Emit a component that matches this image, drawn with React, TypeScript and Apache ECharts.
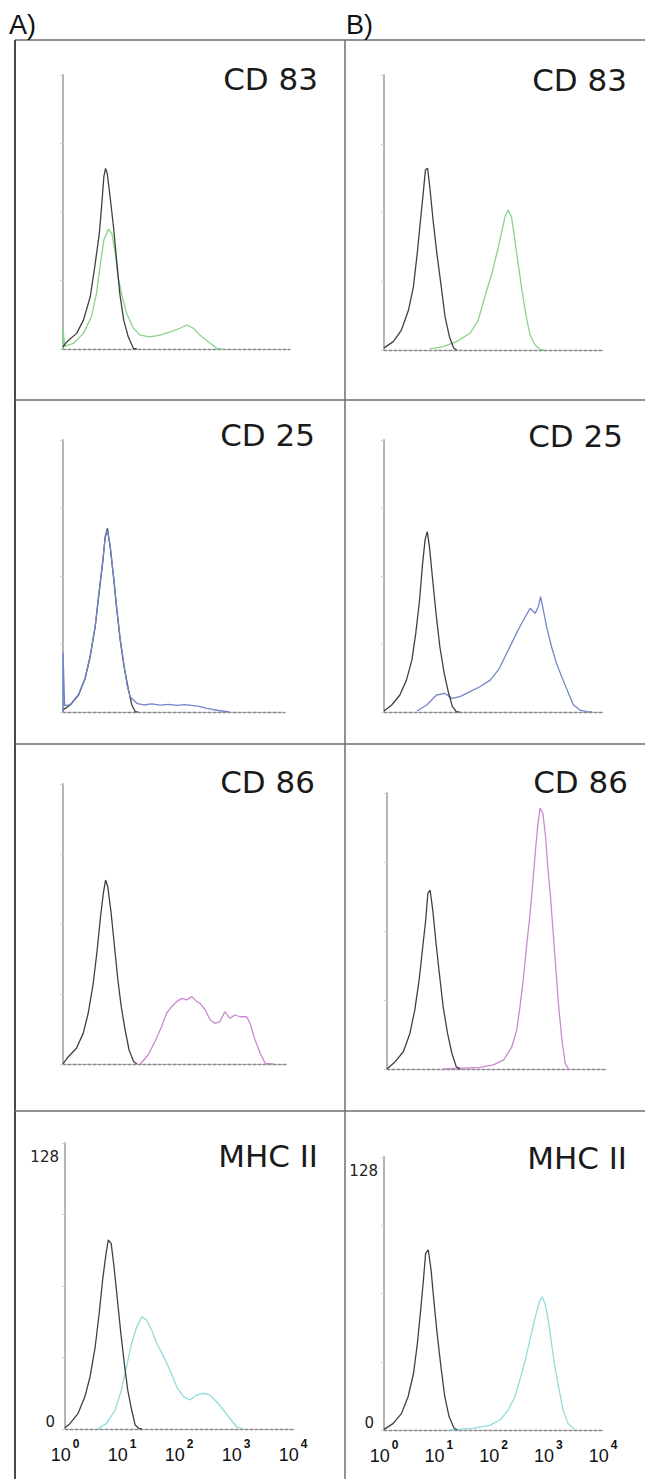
import React, { useEffect, useRef } from "react";
import * as echarts from "echarts";

// ---- DATA (x = log10 fluorescence in decades, y = cell count) ----
const markers = ["CD 83", "CD 25", "CD 86", "MHC II"];
const columnLabels = ["A)", "B)"];
const yTickLabels = [0, 128];
const decades = [0, 1, 2, 3, 4];

// Column A
const A_CD83_ctrl = [[0,1],[0.07,3.4],[0.24,7.3],[0.36,13.5],[0.48,24.4],[0.56,38.5],[0.64,54],[0.68,66.5],[0.72,80.5],[0.75,84.4],[0.78,82],[0.83,71],[0.89,57],[0.95,40],[1.0,26],[1.07,13.5],[1.15,5.7],[1.24,0.3],[1.3,0]];
const A_CD83_stain = [[0,0],[0,9.7],[0.03,1.2],[0.18,2.6],[0.36,7.3],[0.5,15],[0.59,26],[0.66,40],[0.72,51],[0.8,56],[0.86,54],[0.92,44.7],[0.97,33.8],[1.03,26],[1.12,16.7],[1.24,9.7],[1.36,6.5],[1.53,5.7],[1.71,6.5],[1.89,8],[2.06,9.7],[2.18,11.2],[2.3,9.7],[2.41,6.5],[2.56,3.4],[2.71,0.3],[2.8,0]];
const A_CD25_ctrl = [[0,1],[0.13,3.3],[0.28,8],[0.4,15.9],[0.49,26],[0.58,40],[0.65,56],[0.72,71.5],[0.76,82.5],[0.8,86.4],[0.85,77.8],[0.91,63.7],[0.97,48],[1.03,33.9],[1.1,21.3],[1.18,10.4],[1.24,3.3],[1.3,0.2],[1.35,0]];
const A_CD25_stain = [[0,0],[0,28],[0.03,3],[0.13,3.5],[0.28,8.3],[0.4,16],[0.49,26.5],[0.58,40.5],[0.65,56.5],[0.72,72],[0.76,82],[0.8,85.5],[0.85,78],[0.91,64],[0.97,48.5],[1.03,34.5],[1.1,22],[1.16,12],[1.21,7.2],[1.33,4.1],[1.45,3.3],[1.6,3.8],[1.75,3.2],[1.9,3.6],[2.05,3.1],[2.2,3.5],[2.35,3.0],[2.45,2.6],[2.59,1.7],[2.8,0.7],[3.0,0]];
const A_CD86_ctrl = [[0,0],[0.07,2.6],[0.24,7.2],[0.36,14],[0.45,23.2],[0.54,36.9],[0.61,52.1],[0.67,67.3],[0.72,78],[0.76,84.1],[0.8,81],[0.86,68.9],[0.92,53.6],[0.98,38.4],[1.04,26.2],[1.11,15.5],[1.18,6.4],[1.26,1.1],[1.32,0]];
const A_CD86_stain = [[1.38,0],[1.52,4.1],[1.64,10.2],[1.76,17],[1.85,23.2],[1.94,26.2],[2.03,28.5],[2.12,30],[2.21,29.3],[2.3,30.8],[2.39,28.5],[2.45,27.7],[2.54,24.7],[2.63,20.1],[2.71,18.6],[2.8,19.3],[2.89,23.9],[2.98,20.9],[3.07,22.4],[3.16,21.6],[3.28,21.6],[3.34,18.6],[3.43,11],[3.52,4.9],[3.61,0.3],[3.76,0]];
const A_MHC_ctrl = [[0,0.6],[0.09,2.5],[0.23,7],[0.35,14.5],[0.44,23.4],[0.53,36.8],[0.6,51.8],[0.66,66.7],[0.72,78.6],[0.76,84.6],[0.81,83.1],[0.86,72.6],[0.92,57.7],[0.98,42.8],[1.04,29.4],[1.1,17.5],[1.17,8.5],[1.23,1.8],[1.29,0.3],[1.35,0]];
const A_MHC_stain = [[0.57,0],[0.73,2.5],[0.88,8.5],[0.99,17.5],[1.08,27.9],[1.17,38.4],[1.26,45.8],[1.35,50.3],[1.43,48.8],[1.52,44.3],[1.61,38.4],[1.73,32.4],[1.84,26.4],[1.96,18.9],[2.08,14.5],[2.19,13],[2.31,15.2],[2.43,16],[2.54,15.2],[2.66,12.2],[2.78,8.5],[2.89,4.8],[3.01,1],[3.13,0]];

// Column B
const B_CD83_ctrl = [[0,1],[0.17,3.9],[0.32,9.3],[0.45,18.6],[0.54,29.5],[0.61,45],[0.67,60.5],[0.72,73],[0.76,83.8],[0.8,84.6],[0.84,76],[0.9,60.5],[0.97,45],[1.05,29.5],[1.12,15.5],[1.2,6.2],[1.28,0.8],[1.34,0]];
const B_CD83_stain = [[0.84,0.5],[1.09,1.6],[1.33,3.9],[1.58,7.8],[1.73,14],[1.85,24.8],[1.98,35.7],[2.07,45],[2.14,52.7],[2.22,62],[2.28,65.2],[2.34,62],[2.4,51.2],[2.46,40.4],[2.53,28],[2.61,15.5],[2.68,7],[2.77,2.3],[2.86,0.3],[2.95,0]];
const B_CD25_ctrl = [[0,0.5],[0.14,3.3],[0.29,8],[0.41,15],[0.51,24.5],[0.58,37],[0.65,52.7],[0.7,68.4],[0.75,81],[0.79,84.9],[0.83,77.8],[0.89,62],[0.95,46.4],[1.02,30.7],[1.1,18.2],[1.18,8.8],[1.25,2.5],[1.32,0.2],[1.38,0]];
const B_CD25_stain = [[0.6,0.5],[0.78,3.3],[0.96,8],[1.11,8.8],[1.24,6.4],[1.39,7.2],[1.57,9.6],[1.75,11.9],[1.94,15],[2.09,19.8],[2.21,26],[2.33,32.3],[2.45,38.6],[2.58,44.8],[2.67,48.8],[2.76,46.4],[2.82,49.6],[2.86,54.3],[2.91,48],[2.97,40.1],[3.06,30.7],[3.15,22.9],[3.27,15],[3.37,8.8],[3.46,3.3],[3.58,0.9],[3.73,0.1],[3.8,0]];
const B_CD86_ctrl = [[0,0],[0.15,3.4],[0.3,8],[0.42,16.5],[0.51,27.4],[0.59,41.3],[0.65,55.2],[0.71,69.1],[0.75,81.5],[0.79,83],[0.84,73.7],[0.9,58.3],[0.96,44.4],[1.03,28.9],[1.11,16.6],[1.19,7.3],[1.27,1.1],[1.34,0]];
const B_CD86_stain = [[1.03,0],[1.71,0.8],[1.95,1.9],[2.14,4.2],[2.29,10.3],[2.38,18.1],[2.44,28.9],[2.5,41.3],[2.56,56.7],[2.62,70.6],[2.68,87.7],[2.73,103.1],[2.77,114],[2.81,121],[2.86,118.6],[2.91,107.7],[2.95,93.8],[3.0,79.9],[3.05,62.9],[3.1,45.9],[3.15,28.9],[3.21,13.5],[3.27,2.6],[3.33,0]];
const B_MHC_ctrl = [[0,0.3],[0.17,3.1],[0.32,7.8],[0.44,15.6],[0.54,26.6],[0.61,40.6],[0.67,56.3],[0.72,70.3],[0.76,82.8],[0.81,84.4],[0.86,75],[0.91,60.9],[0.97,45.3],[1.04,29.7],[1.11,15.6],[1.19,6.2],[1.28,0.8],[1.34,0]];
const B_MHC_stain = [[1.2,0],[1.63,0.8],[1.94,2.3],[2.12,4.7],[2.27,9.4],[2.39,15.6],[2.48,23.4],[2.58,32.8],[2.65,40.6],[2.72,48.4],[2.78,54.7],[2.84,60.2],[2.89,62.5],[2.94,59.4],[3.0,51.6],[3.06,40.6],[3.12,29.7],[3.2,18.8],[3.27,9.4],[3.36,3.1],[3.49,0]];

const controls = [
  [A_CD83_ctrl, A_CD25_ctrl, A_CD86_ctrl, A_MHC_ctrl],
  [B_CD83_ctrl, B_CD25_ctrl, B_CD86_ctrl, B_MHC_ctrl],
];
const stains = [
  [A_CD83_stain, A_CD25_stain, A_CD86_stain, A_MHC_stain],
  [B_CD83_stain, B_CD25_stain, B_CD86_stain, B_MHC_stain],
];

// ---- LAYOUT / STYLE ----
const markerColors = ["#8ad38a", "#7386c9", "#c98ad0", "#93dcdc"];
const grids = [
  [
    { left: 63, top: 75, width: 227, height: 274 },
    { left: 63, top: 440, width: 222, height: 272 },
    { left: 63, top: 784, width: 224, height: 280 },
    { left: 65, top: 1143, width: 228, height: 286 },
  ],
  [
    { left: 384, top: 75, width: 218, height: 275 },
    { left: 384, top: 440, width: 219, height: 272 },
    { left: 387, top: 793, width: 218, height: 276 },
    { left: 384, top: 1157, width: 219, height: 273 },
  ],
];
const titlePos = [
  [[318, 79], [315, 435], [315, 782], [318, 1156]],
  [[627, 80], [623, 436], [628, 782], [627, 1158]],
];

export default function App() {
  const ref = useRef<HTMLDivElement>(null);
  useEffect(() => {
    if (!ref.current) return;
    const chart = echarts.init(ref.current, null, { renderer: "svg" });
    const gridOpts: any[] = [];
    const xAxes: any[] = [];
    const yAxes: any[] = [];
    const series: any[] = [];
    const graphics: any[] = [];
    let idx = 0;
    for (let c = 0; c < 2; c++) {
      for (let r = 0; r < 4; r++) {
        const g = grids[c][r];
        const bottomRow = r === 3;
        gridOpts.push({ ...g, containLabel: false });
        xAxes.push({
          type: "value",
          gridIndex: idx,
          min: decades[0],
          max: decades[decades.length - 1],
          interval: 1,
          splitLine: { show: false },
          axisLine: { show: true, lineStyle: { color: "#8a8a8a", width: 1.4, type: [3, 2] } },
          axisTick: { show: false },
          axisLabel: {
            show: bottomRow,
            margin: 9,
            formatter: (v: number) => `{b|10}{s|${v}}`,
            rich: {
              b: { fontSize: 18, fontFamily: "Liberation Sans", color: "#111", lineHeight: 26, verticalAlign: "bottom" },
              s: { fontSize: 12, fontFamily: "Liberation Sans", color: "#111", fontWeight: "bold", lineHeight: 26, verticalAlign: "top", padding: [0, 0, 0, 2] },
            },
          },
        });
        yAxes.push({
          type: "value",
          gridIndex: idx,
          min: 0,
          max: 128,
          interval: 32,
          splitLine: { show: false },
          axisLine: { show: true, lineStyle: { color: "#b5b5b5", width: 2 } },
          axisTick: { show: true, length: 3, lineStyle: { color: "#d0d0d0" } },
          axisLabel: {
            show: bottomRow,
            margin: 6,
            formatter: (v: number) =>
              v === yTickLabels[1] ? `{t|${v}}` : v === yTickLabels[0] ? `{z|${v}}` : "",
            rich: {
              t: { fontSize: 15, fontFamily: "DejaVu Sans", color: "#222", padding: [28, 0, 0, 0] },
              z: { fontSize: 15, fontFamily: "DejaVu Sans", color: "#222", padding: [0, 4, 14, 0] },
            },
          },
        });
        series.push({
          type: "line",
          xAxisIndex: idx,
          yAxisIndex: idx,
          data: stains[c][r],
          showSymbol: false,
          silent: true,
          lineStyle: { color: markerColors[r], width: 1.3 },
        });
        series.push({
          type: "line",
          xAxisIndex: idx,
          yAxisIndex: idx,
          data: controls[c][r],
          showSymbol: false,
          silent: true,
          z: c === 0 && r === 1 ? 1 : 3,
          lineStyle: { color: "#2b2b2b", width: 1.3, opacity: 0.9 },
        });
        const [tx, ty] = titlePos[c][r];
        graphics.push({
          type: "text",
          x: tx,
          y: ty,
          style: {
            text: markers[r],
            fontSize: 31,
            fontFamily: "DejaVu Sans",
            fill: "#1a1a1a",
            align: "right",
            verticalAlign: "middle",
          },
        });
        idx++;
      }
    }
    // frame lines
    const lineStyle = { stroke: "#6e6e6e", lineWidth: 1.5 };
    graphics.push({ type: "line", shape: { x1: 15, y1: 40, x2: 645, y2: 40 }, style: lineStyle });
    graphics.push({ type: "line", shape: { x1: 15, y1: 40, x2: 15, y2: 1479 }, style: { stroke: "#1a1a1a", lineWidth: 1.6 } });
    graphics.push({ type: "line", shape: { x1: 345, y1: 40, x2: 345, y2: 1479 }, style: lineStyle });
    [400, 744, 1111].forEach((y) =>
      graphics.push({ type: "line", shape: { x1: 15, y1: y, x2: 645, y2: y }, style: lineStyle })
    );
    graphics.push({
      type: "text", x: 9, y: 25,
      style: { text: columnLabels[0], fontSize: 27, fontFamily: "Liberation Sans", fill: "#111", verticalAlign: "middle" },
    });
    graphics.push({
      type: "text", x: 346, y: 25,
      style: { text: columnLabels[1], fontSize: 27, fontFamily: "Liberation Sans", fill: "#111", verticalAlign: "middle" },
    });

    chart.setOption({
      animation: false,
      backgroundColor: "#ffffff",
      grid: gridOpts,
      xAxis: xAxes,
      yAxis: yAxes,
      series,
      graphic: graphics,
    });
    return () => chart.dispose();
  }, []);
  return (
    <div
      ref={ref}
      style={{ position: "absolute", left: 0, top: 0, width: 645, height: 1479 }}
    />
  );
}
